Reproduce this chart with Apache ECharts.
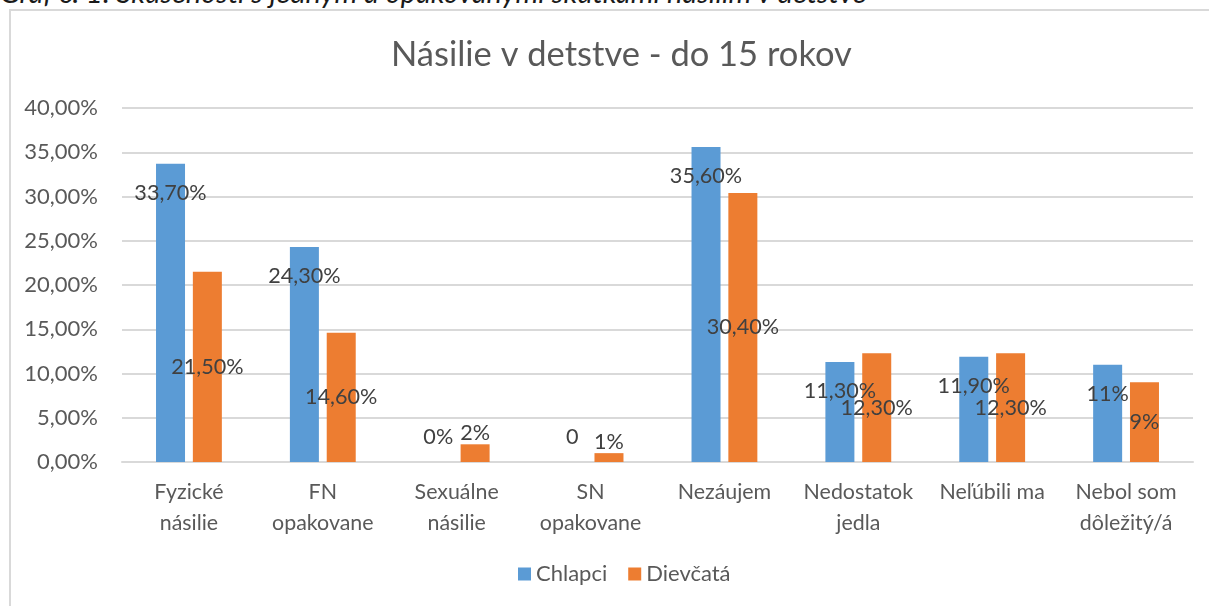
<!DOCTYPE html>
<html>
<head>
<meta charset="utf-8">
<script src="https://cdn.jsdelivr.net/npm/echarts@6/dist/echarts.min.js"></script>
<style>
  html, body { margin: 0; padding: 0; background: #fff; }
  #wrap { position: relative; width: 1209px; height: 606px; overflow: hidden; }
  #caption {
    position: absolute; left: 0; top: -23px; white-space: nowrap;
    font-family: Lato, sans-serif; font-style: italic; font-size: 29px; line-height: 29px;
    color: #1a1a1a;
  }
  #frame {
    position: absolute; left: 9px; top: 9px; width: 1300px; height: 700px;
    border-left: 2px solid #d9d9d9; border-top: 2px solid #d9d9d9;
  }
  #chart { position: absolute; left: 0; top: 0; width: 1209px; height: 606px; }
</style>
</head>
<body>
<div id="wrap">
  <div id="caption">Graf č. 1: Skúsenosti s jedným a opakovanými skutkami násilím v detstve</div>
  <div id="frame"></div>
  <div id="chart"></div>
</div>
<script>
var categories = ['Fyzické\nnásilie', 'FN\nopakovane', 'Sexuálne\nnásilie', 'SN\nopakovane',
  'Nezáujem', 'Nedostatok\njedla', 'Neľúbili ma', 'Nebol som\ndôležitý/á'];
var chlapci = [33.7, 24.3, 0, 0, 35.6, 11.3, 11.9, 11.0];
var dievcata = [21.5, 14.6, 2, 1, 30.4, 12.3, 12.3, 9];
var chlapciText = ['33,70%', '24,30%', '0%', '0', '35,60%', '11,30%', '11,90%', '11%'];
var dievcataText = ['21,50%', '14,60%', '2%', '1%', '30,40%', '12,30%', '12,30%', '9%'];

var font = 'Lato, sans-serif';
var labelStyle = { fontFamily: font, fontSize: 21.6, color: '#404040' };

// small bars get their label above the bar (smallDist), the rest inside
function items(values, texts, pos, dist, smallDist) {
  return values.map(function (v, i) {
    var small = v < 3;
    return {
      value: v,
      label: {
        show: true,
        position: small ? 'top' : pos,
        distance: small ? smallDist : dist,
        formatter: texts[i]
      }
    };
  });
}

var chart = echarts.init(document.getElementById('chart'));
var option = {
  animation: false,
  title: {
    text: 'Násilie v detstve - do 15 rokov',
    left: 386,
    top: 32,
    textStyle: { fontFamily: font, fontSize: 34.5, fontWeight: 'normal', color: '#595959' }
  },
  legend: {
    bottom: 16,
    left: 513,
    icon: 'rect',
    itemWidth: 13,
    itemHeight: 13,
    itemGap: 21,
    textStyle: { fontFamily: font, fontSize: 22, color: '#595959' }
  },
  grid: { left: 122, right: 16, top: 108, bottom: 144 },
  xAxis: {
    type: 'category',
    data: categories,
    axisLine: { lineStyle: { color: '#d9d9d9', width: 2 } },
    axisTick: { show: false },
    axisLabel: {
      fontFamily: font, fontSize: 21.4, color: '#595959',
      lineHeight: 31, margin: 15, interval: 0
    }
  },
  yAxis: {
    type: 'value',
    min: 0,
    max: 40,
    interval: 5,
    splitLine: { lineStyle: { color: '#d9d9d9', width: 2 } },
    axisLabel: {
      fontFamily: font, fontSize: 22, color: '#595959', margin: 24,
      formatter: function (v) { return v.toFixed(2).replace('.', ',') + '%'; }
    }
  },
  series: [
    {
      name: 'Chlapci',
      type: 'bar',
      barWidth: 29,
      barGap: '27%',
      itemStyle: { color: '#5b9bd5' },
      label: labelStyle,
      data: items(chlapci, chlapciText, 'insideTop', 18, 14)
    },
    {
      name: 'Dievčatá',
      type: 'bar',
      barWidth: 29,
      barGap: '27%',
      itemStyle: { color: '#ed7d31' },
      label: labelStyle,
      data: items(dievcata, dievcataText, 'inside', 0, 0)
    }
  ]
};
chart.setOption(option);
window.addEventListener('resize', function () {
  chart.resize();
});
</script>
</body>
</html>
